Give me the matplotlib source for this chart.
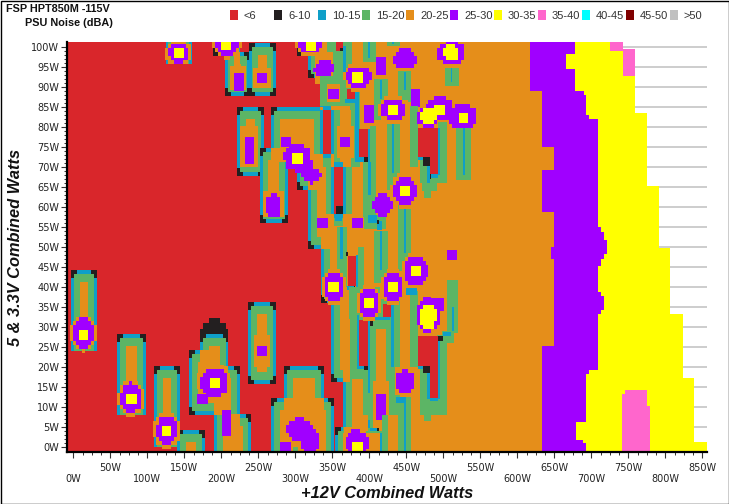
import numpy as np
import matplotlib
matplotlib.use("Agg")
import matplotlib.pyplot as plt
from matplotlib.colors import ListedColormap, BoundaryNorm
from matplotlib.patches import Rectangle

TITLE = "FSP HPT850M -115V"
SUBTITLE = "PSU Noise (dBA)"
XLABEL = "+12V Combined Watts"
YLABEL = "5 & 3.3V Combined Watts"
LEVEL_LABELS = ["<6", "6-10", "10-15", "15-20", "20-25", "25-30", "30-35", "35-40", "40-45", "45-50", ">50"]
LEVEL_COLORS = ["#d9262b", "#231f20", "#0f9fc8", "#5cb565", "#e58e1a", "#a000ff", "#ffff00", "#ff66cc",
                "#00ffff", "#800000", "#c0c0c0"]
X_TICKS = list(range(0, 851, 50))
Y_TICKS = list(range(0, 101, 5))

RED, BLACK, BLUE, GREEN, ORANGE, PURPLE, YELLOW, PINK = range(8)

# capsule-shaped regions of the noise map: (12V lo, 12V hi, 5V lo, 5V hi)
REGION_GROUPS = [
    [(-3, 33, 24, 44.3)],
    [(60, 98, 8, 28.3)],
    [(109, 145.5, 0, 20.3)],
    [(140, 178, -5, 4.3)],
    [(172, 210, 8, 28.3), (157, 190, 8, 24.3), (190, 226, -5, 20.3), (190, 241, -5, 8.3)],
    [(236, 274, 15.8, 36.3)],
    [(125, 161, 95.4, 105)],
    [(189, 225, 97.5, 105), (205, 239, 87.5, 98.5)],
    [(238, 274, 87.5, 100.8)],
    [(222, 258, 67.8, 84.8)],
    [(302, 700, 97.5, 105), (318, 700, 92, 105), (334, 700, 84, 105), (268, 338, 71, 84.8),
     (349, 700, 70, 84.8), (252, 290, 56, 74.6), (302, 353, 64.3, 73), (365, 700, 58.3, 70),
     (318, 353, 49.4, 66), (318, 700, 49.4, 58.3), (335, 700, 36, 49.4), (349, 700, 16.3, 36),
     (365, 700, 5, 16.3), (354, 700, -5, 5), (285, 339, -5, 20.3), (268, 353, -5, 12.3)],
]
DOME = [("R", BLACK, 172, 210, 27.5, 29.4), ("R", BLACK, 176, 206, 29.3, 30.9), ("R", BLACK, 184, 198, 30.8, 32.3)]

# R: level,x0,x1,y0,y1   E: level,cx,cy,rx,ry   B: cx,cy,rx,ry   S: x0,x1,y0,y1,cx0,cx1,cy0,cy1
LEFT_ZONES = [
    ("R", GREEN, 1, 29, 24, 32), ("R", BLUE, -3, 1, 24, 26), ("R", BLUE, 29, 33, 24, 26),
    ("B", 14, 28.5, 14, 3.75), ("R", YELLOW, 8, 21, 26.8, 29.3),
    ("R", GREEN, 64, 94, 8, 16), ("R", BLUE, 60, 64, 8, 10), ("R", BLUE, 94, 98, 8, 10),
    ("B", 79, 12.3, 14, 3.75), ("R", YELLOW, 72.5, 86, 10.8, 13.3),
    ("R", GREEN, 113, 141, 0, 8), ("R", BLUE, 109, 113, 0, 2), ("R", BLUE, 141, 145.5, 0, 2),
    ("B", 126.5, 4.2, 14, 3.75), ("R", YELLOW, 120, 133, 2.8, 5.3),
    ("R", GREEN, 129, 157, 95.4, 97), ("R", BLUE, 125, 129, 95.4, 97.4), ("R", BLUE, 157, 161, 95.4, 97.4),
    ("B", 143, 98.3, 15, 2.5), ("R", YELLOW, 136, 150, 96.9, 99.4),
    ("B", 208, 101, 15, 3.4), ("R", YELLOW, 200, 214, 98.9, 103),
    ("R", ORANGE, 212, 233, 89, 95), ("R", PURPLE, 217, 231, 88.8, 93.3),
    ("R", ORANGE, 243, 268, 89.5, 94.5), ("R", PURPLE, 248, 262, 90.8, 93.3),
    ("R", ORANGE, 226, 250, 70, 80), ("R", PURPLE, 232, 245.5, 70.8, 77.3),
    ("R", ORANGE, 244, 266, 20, 28), ("R", PURPLE, 248, 262, 22.8, 25.3),
    ("B", 191, 16.2, 19, 3.75), ("R", YELLOW, 185, 198, 14.8, 17.3), ("R", PURPLE, 168, 182, 10.8, 13.3),
    ("R", PURPLE, 201, 214, 2.8, 9.3),
    ("R", ORANGE, 257, 285, 57.5, 64), ("E", PURPLE, 271, 60.3, 11, 3),
    ("E", PURPLE, 306, 4.3, 17, 3), ("E", PURPLE, 320, 1.4, 14, 3), ("R", PURPLE, 280, 294, -5, 1.3),
    ("R", GREEN, 297, 304, -5, 0),
    ("E", PURPLE, 303, 72.2, 18, 3.3), ("E", PURPLE, 313, 70, 11, 2.5), ("E", PURPLE, 322, 68, 12.6, 2.1),
    ("R", PURPLE, 280.6, 294, 74.8, 77.3), ("R", YELLOW, 296, 310, 70.8, 73.3),
]

CENTER_SHIFT = 3
CENTER_ZONES = [
    ("B", 318, 101, 16, 3), ("R", YELLOW, 311, 325, 98.8, 103),
    ("R", GREEN, 340, 349, 98.5, 103), ("R", GREEN, 348, 374, 91, 103), ("R", BLUE, 362, 366, 91, 100),
    ("R", RED, 352, 362, 98.8, 103), ("R", BLACK, 358, 362, 98.8, 99.6),
    ("R", ORANGE, 324, 345, 90.5, 98), ("E", PURPLE, 336, 94.3, 13.4, 2.2),
    ("R", GREEN, 331, 366, 85, 92.5), ("R", ORANGE, 340, 358, 86, 90.5), ("R", PURPLE, 342, 356, 86.8, 89.3),
    ("R", GREEN, 358, 384, 84, 91), ("R", GREEN, 372, 384, 70, 91), ("R", BLUE, 364, 383, 85.7, 86.8),
    ("R", BLUE, 378, 383, 71, 89.3), ("R", RED, 367, 378, 86.8, 89.3),
    ("R", ORANGE, 358, 371.5, 71, 85), ("R", ORANGE, 354, 376, 72, 80), ("R", PURPLE, 358, 371.5, 74.8, 77.3),
    ("B", 383, 92.2, 17, 2.7), ("R", YELLOW, 374, 388, 90.8, 93.5),
    ("S", 388, 406, 96, 103, 396, 398, 97, 103), ("S", 421, 438, 100, 103, 428, 430, 100.5, 103),
    ("S", 436, 454, 86, 93.8, 444, 447, 89, 93.5), ("S", 404, 422, 81.4, 91.8, 412, 414, 86.8, 91.5),
    ("S", 421, 439, 68.5, 81.4, 428, 431, 69, 81.4), ("S", 499, 518, 90, 95.5, 507, 509, 91, 95.5),
    ("S", 514, 535, 66.8, 79.5, 523, 526, 68, 79.5),
    ("R", PURPLE, 406, 420, 92.8, 97.3), ("E", PURPLE, 445, 96.8, 15, 2.7),
    ("B", 508, 98.3, 19, 3), ("E", YELLOW, 508, 98.3, 11, 2.2),
    ("R", PURPLE, 390, 404, 80.8, 85.3), ("R", PURPLE, 453, 466, 84.8, 89.3),
    ("B", 430, 84.1, 17, 2.7), ("R", YELLOW, 422, 436, 82.8, 85.3),
    ("R", GREEN, 398, 406, 68, 80), ("R", BLUE, 395, 398, 71, 79.3), ("R", RED, 383.5, 395, 72.2, 79.3),
    ("R", BLUE, 383.5, 390, 71, 72.2), ("R", BLACK, 390, 395, 71, 72.2),
    ("S", 389, 406, 57.6, 71, 396, 399, 63, 71),
    ("R", GREEN, 452, 463, 70, 85), ("R", GREEN, 465, 502, 66, 72), ("R", GREEN, 488, 502, 72, 81),
    ("R", GREEN, 471, 481, 62.2, 66), ("R", GREEN, 468, 488, 64, 70), ("R", ORANGE, 463, 490, 79.5, 81),
    ("R", RED, 463, 490, 72.2, 79.5), ("R", RED, 479, 490, 68.2, 72.2), ("R", BLUE, 490, 493, 68, 79.5),
    ("R", BLUE, 463, 479, 71.4, 72.2), ("R", BLUE, 475, 479, 66, 71.4), ("R", BLACK, 470, 479, 70.2, 72.2),
    ("R", BLUE, 479, 490, 67.2, 68.2), ("R", BLACK, 479, 481, 67, 68.2),
    ("E", PURPLE, 492, 84.3, 19, 3), ("E", PURPLE, 524, 82.2, 19, 3.2), ("E", PURPLE, 476.5, 82.4, 16, 2.7),
    ("E", YELLOW, 476.5, 82.4, 12, 2), ("R", YELLOW, 485, 499, 82.8, 85.3), ("R", YELLOW, 518, 531, 80.8, 83.3),
    ("S", 354, 367, 40, 55, 358, 361, 47, 55), ("R", BLUE, 351, 360, 56.4, 58.3), ("R", BLACK, 352, 362, 58.3, 60.3),
    ("R", GREEN, 382, 390, 35, 50), ("R", BLUE, 379, 382, 39.5, 48), ("R", RED, 368, 379, 40.3, 47.8),
    ("R", BLACK, 366, 369, 47.8, 48.8), ("R", BLUE, 367, 376, 39.3, 40.3), ("R", BLACK, 376, 378, 39.3, 40.3),
    ("R", PURPLE, 327, 341, 54.8, 57.3), ("R", PURPLE, 374, 388, 54.8, 57.3),
    ("R", GREEN, 390, 420, 54.5, 58), ("R", BLUE, 396, 408, 56, 58), ("R", BLUE, 408, 414, 54.3, 56.4),
    ("R", BLACK, 408, 410, 55.8, 56.8),
    ("S", 403, 423, 41, 54, 412, 414, 44.3, 54), ("S", 421, 434, 64.3, 69.3, 428, 431, 68.5, 69.3),
    ("S", 436, 454, 44, 61, 444, 447, 48.5, 59.7),
    ("E", PURPLE, 415, 60.5, 12.5, 2.8), ("B", 445, 64.1, 15, 3.75), ("R", YELLOW, 438.5, 452, 62.8, 65.3),
    ("B", 460, 44.1, 16, 3.75), ("R", YELLOW, 453, 467, 42.8, 45.3), ("R", PURPLE, 502, 515, 46.8, 49.3),
    ("R", GREEN, 371, 438, 8, 33), ("R", GREEN, 420, 438, 20, 38), ("R", GREEN, 452, 463, 20, 39),
    ("R", BLUE, 447, 461, 38, 39.7), ("R", GREEN, 370, 412, 32, 40), ("R", GREEN, 412, 432, 32, 37),
    ("R", RED, 416, 426, 32.5, 35.8), ("R", BLUE, 426, 429, 32, 36), ("R", BLUE, 398, 425, 31.8, 32.5),
    ("R", BLACK, 395, 402, 30.3, 31.8), ("R", BLUE, 380, 383.5, 20, 33), ("R", BLUE, 380, 395, 19.5, 20.3),
    ("R", BLACK, 390, 395, 19.3, 20.3), ("R", RED, 383.5, 395, 20.3, 31.8), ("R", BLUE, 395, 398, 13.5, 31.8),
    ("R", ORANGE, 406, 420, 16, 29.5), ("R", ORANGE, 402, 424, 3, 16.4), ("R", PURPLE, 406, 420, 6.8, 13.3),
    ("R", ORANGE, 374, 388, 3.5, 17), ("R", BLUE, 427, 430, 20, 36),
    ("R", GREEN, 414, 423, -2, 8), ("R", GREEN, 396, 402, 3.5, 8), ("R", GREEN, 396, 414, 3.5, 4),
    ("R", BLUE, 411, 414, -2, 3.5), ("R", BLUE, 398, 408, 3.9, 4.7), ("R", BLACK, 408, 410, 3.9, 4.7),
    ("R", BLUE, 396, 398, 4.8, 6.8),
    ("R", ORANGE, 432, 462, 13, 20), ("E", PURPLE, 445, 16.4, 12.5, 2.9),
    ("R", GREEN, 436, 454, -2, 12.6), ("R", BLUE, 444, 447, -2, 12), ("R", BLUE, 433, 447, 11, 12.6),
    ("R", GREEN, 365, 397, -2, 4), ("B", 380, 1, 16, 3.3), ("R", YELLOW, 374, 388, -2, 1.3),
    ("R", GREEN, 465, 502, 8, 20), ("R", GREEN, 488, 502, 20, 28), ("R", GREEN, 471, 481, 6.4, 8.5),
    ("S", 502, 517, 28.5, 41.8, 509, 511, 29, 35), ("R", GREEN, 495, 512, 26, 29), ("R", ORANGE, 463, 490, 28, 29.5),
    ("R", RED, 463, 490, 20.3, 27.8), ("R", RED, 479, 490, 12.2, 20.3), ("R", BLUE, 490, 493, 12, 27.8),
    ("R", BLUE, 463, 479, 19.5, 20.3), ("R", BLUE, 475, 479, 12, 19.5), ("R", BLACK, 470, 479, 18.5, 20.3),
    ("R", BLUE, 479, 490, 11.4, 12.2), ("R", BLACK, 490, 497, 26.4, 27.8), ("R", BLUE, 497, 508, 27.8, 28.8),
    ("R", PURPLE, 470, 498, 34, 37.3), ("E", PURPLE, 476.5, 33, 17, 4.3), ("E", YELLOW, 476.5, 32.6, 11.6, 3.3),
    ("B", 397, 36.1, 14, 3.75), ("R", YELLOW, 390, 404, 34.8, 37.3),
    ("B", 349, 40.1, 14, 3.75), ("R", YELLOW, 342, 356, 38.8, 41.3),
    ("B", 429, 40.1, 14, 3.75), ("R", YELLOW, 422, 436, 38.8, 41.3),
]

# right-hand bands: (top of the interval in 5&3.3V watts, 12V watts where the band begins)
PURPLE_START = [(103, 617), (88.8, 633), (74.8, 649), (69.3, 633), (58.8, 649), (50, 645), (47, 649), (25.3, 633)]
YELLOW_START = [(103, 678), (98, 666), (94.3, 678), (88.8, 690), (87.8, 693), (82.8, 697), (81.8, 709), (55, 713),
                (53.8, 717), (51.8, 721), (48.3, 717), (47, 713), (45.3, 709), (38.8, 713), (37.8, 717), (34.3, 713),
                (33.3, 709), (19.3, 697), (18.3, 693), (6.3, 679), (1.8, 689), (1, 693)]
BAND_END = [(103, 743), (99.3, 759), (83.3, 775), (65.3, 791), (49.8, 806), (33.3, 823), (17.3, 839), (1.3, 856)]
PINK_ZONES = [("R", PINK, 725, 743, 98.7, 103), ("R", PINK, 742, 759, 92.5, 99.3), ("R", PINK, 745, 775, 13.3, 14.3),
              ("R", PINK, 741, 775, 10.3, 13.3), ("R", PINK, 741, 779, -3, 10.3)]

# grid: 1 W wide, 0.25 W tall
xc = np.arange(-8, 856) + 0.5
yc = np.arange(-3, 103, 0.25) + 0.125
XX, YY = np.meshgrid(xc, yc)
QX = np.floor(XX / 4) * 4 + 2
QY = np.round(YY)
grid = np.full(XX.shape, RED, dtype=float)


def box(x0, x1, y0, y1):
    return (XX >= x0) & (XX < x1) & (YY >= y0) & (YY < y1)


def ell(cx, cy, rx, ry):
    return ((QX - cx) / rx) ** 2 + ((QY - cy) / ry) ** 2 <= 1


def erode(mask, dx, dy):
    out = mask.copy()
    for step in range(1, dx + 1):
        left = np.ones_like(mask); left[:, step:] = mask[:, :-step]
        right = np.ones_like(mask); right[:, :-step] = mask[:, step:]
        out &= left & right
    for step in range(1, dy + 1):
        down = np.ones_like(mask); down[step:, :] = mask[:-step, :]
        up = np.ones_like(mask); up[:-step, :] = mask[step:, :]
        out &= down & up
    return out


def inside(rects, x, y):
    return any(a <= x < b and c <= y < d for a, b, c, d in rects)


def paint_group(rects):
    union = np.zeros(XX.shape, bool)
    for x0, x1, y0, y1 in rects:
        union |= box(x0, x1, y0, y1)
    grid[union] = BLUE
    for x0, x1, y0, y1 in rects:
        for cx, sx in ((x0, 1), (x1, -1)):
            for cy, sy in ((y0, 1), (y1, -1)):
                if not inside(rects, cx - sx, cy + sy * 0.5) and not inside(rects, cx + sx, cy - sy * 0.5):
                    xa, xb = sorted((cx, cx + sx * 8))
                    ya, yb = sorted((cy, cy + sy * 2))
                    grid[box(xa, xb, ya, yb)] = BLACK
    grid[erode(union, 4, 4)] = GREEN
    grid[erode(union, 12, 12)] = ORANGE


def paint_zones(zones, dx=0):
    for z in zones:
        if z[0] == "R":
            grid[box(z[2] + dx, z[3] + dx, z[4], z[5])] = z[1]
        elif z[0] == "E":
            grid[ell(z[2] + dx, z[3], z[4], z[5])] = z[1]
        elif z[0] == "B":
            grid[ell(z[1] + dx, z[2], z[3] + 4, z[4] + 0.8)] = ORANGE
            grid[ell(z[1] + dx, z[2], z[3], z[4])] = PURPLE
        elif z[0] == "S":
            grid[box(z[1] + dx, z[2] + dx, z[3], z[4])] = GREEN
            grid[box(z[5] + dx, z[6] + dx, z[7], z[8])] = BLUE


def step_values(pairs):
    out = np.zeros(yc.shape)
    for top, val in pairs:
        out[yc < top] = val
    return out


paint_zones(DOME)
for group in REGION_GROUPS:
    paint_group(group)
paint_zones(LEFT_ZONES)
paint_zones(CENTER_ZONES, CENTER_SHIFT)

p_start = step_values(PURPLE_START)
y_start = step_values(YELLOW_START)
b_end = step_values(BAND_END)
for r in range(len(yc)):
    grid[r, (xc >= 600) & (xc < p_start[r])] = ORANGE
    grid[r, (xc >= p_start[r]) & (xc < y_start[r])] = PURPLE
    grid[r, (xc >= y_start[r]) & (xc < b_end[r])] = YELLOW
    grid[r, xc >= b_end[r]] = np.nan
paint_zones(PINK_ZONES)
masked = np.ma.masked_invalid(grid)

W, H = 729, 504
fig = plt.figure(figsize=(W / 100, H / 100), dpi=100, facecolor="white")
ax_l, ax_r, ax_t, ax_b = 67.4, 706.7, 42, 452.1
ax = fig.add_axes([ax_l / W, 1 - ax_b / H, (ax_r - ax_l) / W, (ax_b - ax_t) / H])
cmap = ListedColormap(LEVEL_COLORS)
norm = BoundaryNorm(np.arange(-0.5, 11), cmap.N)
ax.imshow(masked, origin="lower", extent=(-8, 856, -3, 103), cmap=cmap, norm=norm, aspect="auto",
          interpolation="nearest", zorder=2)
ax.set_xlim(-8, 856)
ax.set_ylim(-1.2, 101.3)
ax.set_yticks(Y_TICKS)
ax.set_yticklabels([f"{v}W" for v in Y_TICKS], fontsize=7, color="#222222", family="DejaVu Sans")
ax.set_yticks(range(0, 101), minor=True)
ax.set_xticks(X_TICKS)
ax.set_xticklabels([(f"{v}W" if (v // 50) % 2 else f"\n{v}W") for v in X_TICKS], fontsize=7, color="#222222",
                   family="DejaVu Sans", linespacing=1.2)
ax.set_xticks(np.arange(0, 851, 12.5), minor=True)
ax.tick_params(axis="both", which="major", length=4, width=0.8, color="#333333", pad=2)
ax.tick_params(axis="x", which="major", pad=3.5)
ax.tick_params(axis="both", which="minor", length=2, width=0.7, color="#333333")
ax.grid(axis="y", which="major", color="#c0c0c0", lw=1.1, zorder=1)
ax.set_axisbelow(True)
for s in ("top", "right"):
    ax.spines[s].set_visible(False)
for s in ("left", "bottom"):
    ax.spines[s].set_linewidth(1.6)
    ax.spines[s].set_color("black")
    ax.spines[s].set_zorder(5)

fig.text(6 / W, 1 - 8.5 / H, TITLE, fontsize=7.8, fontweight="bold", family="Liberation Sans", va="center", color="#111111")
fig.text(25 / W, 1 - 23 / H, SUBTITLE, fontsize=7.8, fontweight="bold", family="Liberation Sans", va="center", color="#111111")
fig.text(387 / W, 1 - 493.5 / H, XLABEL, fontsize=11.8, fontweight="bold", style="italic", family="Liberation Sans",
         ha="center", va="center", color="#111111")
fig.text(16 / W, 1 - 247 / H, YLABEL, fontsize=11.8, fontweight="bold", style="italic", family="Liberation Sans",
         ha="center", va="center", rotation=90, color="#111111")

for i, (lab, col) in enumerate(zip(LEVEL_LABELS, LEVEL_COLORS)):
    x = 230 + 44 * i
    fig.add_artist(Rectangle((x / W, 1 - 20 / H), 8 / W, 10 / H, transform=fig.transFigure, facecolor=col, edgecolor="none"))
    fig.text((x + 14) / W, 1 - 16 / H, lab, fontsize=8, family="Liberation Sans", va="center", color="#333333")

fig.add_artist(Rectangle((0.5 / W, 0.5 / H), (W - 1) / W, (H - 1) / H, transform=fig.transFigure, facecolor="none",
                         edgecolor="black", lw=1))
fig.savefig("out.png", dpi=100)
